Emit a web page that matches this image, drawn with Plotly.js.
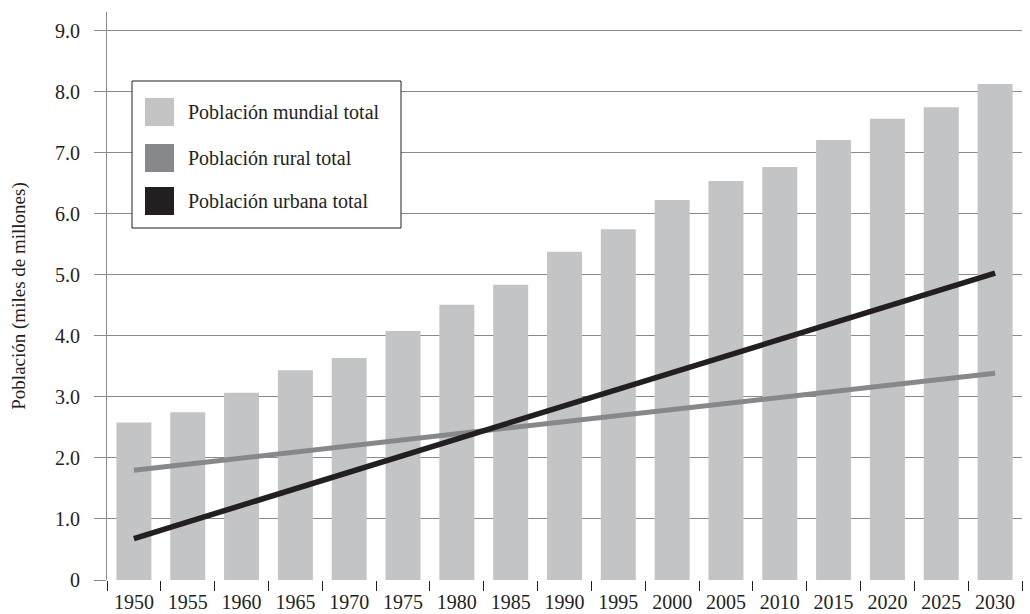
<!DOCTYPE html>
<html>
<head>
<meta charset="utf-8">
<script src="https://cdn.plot.ly/plotly-3.0.1.min.js"></script>
<style>html,body{margin:0;padding:0;background:#fff}#chart{width:1030px;height:614px}</style>
</head>
<body>
<div id="chart"></div>
<script>
const years = ['1950','1955','1960','1965','1970','1975','1980','1985','1990','1995','2000','2005','2010','2015','2020','2025','2030'];
const totalPop = [2.58,2.75,3.07,3.44,3.64,4.08,4.51,4.84,5.38,5.75,6.23,6.54,6.77,7.21,7.56,7.75,8.13];
const ruralYears = ['1950','2030'];
const ruralPop = [1.80,3.39];
const urbanYears = ['1950','2030'];
const urbanPop = [0.68,5.03];
const seriesNames = ['Población mundial total','Población rural total','Población urbana total'];
const yTickVals = [0,1,2,3,4,5,6,7,8,9];
const yTickText = ['0','1.0','2.0','3.0','4.0','5.0','6.0','7.0','8.0','9.0'];
const yTitle = 'Población (miles de millones)';

const colors = ['#c3c4c6','#87888b','#231f20'];
const font = '"Liberation Serif", "Times New Roman", serif';

const W = 1030, H = 614;
const m = {l:107, r:8, t:12, b:34};
const pw = W - m.l - m.r, ph = H - m.t - m.b;
const px = x => (x - m.l) / pw;
const py = y => (H - m.b - y) / ph;

const traces = [
  {type:'bar', x:years, y:totalPop, name:seriesNames[0], marker:{color:colors[0]}, showlegend:false, hoverinfo:'x+y'},
  {type:'scatter', mode:'lines', x:ruralYears, y:ruralPop, name:seriesNames[1], line:{color:colors[1], width:5}, showlegend:false},
  {type:'scatter', mode:'lines', x:urbanYears, y:urbanPop, name:seriesNames[2], line:{color:colors[2], width:5.5}, showlegend:false}
];

const shapes = [
  {type:'rect', xref:'paper', yref:'paper', x0:px(132), x1:px(401), y0:py(228), y1:py(81), line:{color:'#231f20', width:1}, fillcolor:'#ffffff', layer:'above'}
];
const annotations = [];
const itemTops = [98,144,187];
seriesNames.forEach((n,i)=>{
  const t = itemTops[i];
  shapes.push({type:'rect', xref:'paper', yref:'paper', x0:px(145), x1:px(174), y0:py(t+28), y1:py(t), line:{width:0}, fillcolor:colors[i], layer:'above'});
  annotations.push({xref:'paper', yref:'paper', x:px(186), y:py(t+14), xanchor:'left', yanchor:'middle', text:n, showarrow:false, font:{family:font, size:20, color:'#231f20'}});
});

const layout = {
  width:W, height:H,
  margin:m,
  paper_bgcolor:'#ffffff', plot_bgcolor:'#ffffff',
  font:{family:font, color:'#231f20', size:18},
  bargap:0.35,
  xaxis:{
    type:'category', tickson:'boundaries', ticks:'outside', ticklen:10, tickcolor:'#231f20', tickwidth:1,
    showgrid:false, showline:false, zeroline:false, ticklabelstandoff:8,
    tickfont:{family:font, size:20, color:'#231f20'}
  },
  yaxis:{
    range:[0,9.31], tickvals:yTickVals, ticktext:yTickText,
    ticks:'outside', ticklen:12, tickcolor:'#8a8a8a', tickwidth:1,
    showgrid:true, gridcolor:'#8a8a8a', gridwidth:1, zeroline:false,
    showline:true, linecolor:'#8a8a8a', linewidth:1, ticklabelstandoff:10,
    tickfont:{family:font, size:20, color:'#231f20'},
    title:{text:yTitle, font:{family:font, size:19, color:'#231f20'}, standoff:24}
  },
  shapes:shapes,
  annotations:annotations
};

Plotly.newPlot('chart', traces, layout, {displayModeBar:false, staticPlot:true});
</script>
</body>
</html>
